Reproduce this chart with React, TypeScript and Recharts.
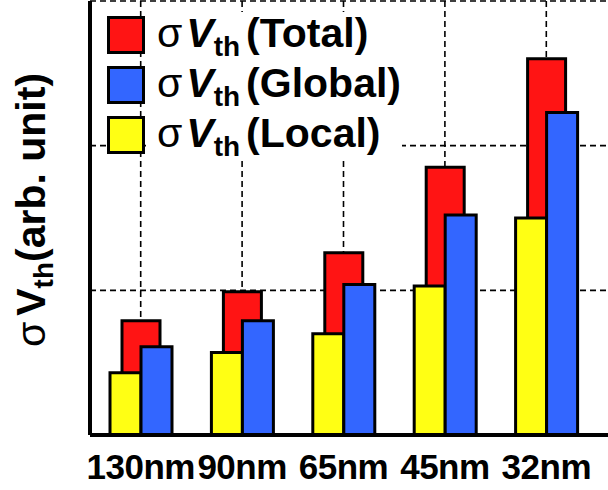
import React from "react";
import {
  BarChart,
  Bar,
  XAxis,
  YAxis,
  CartesianGrid,
  Legend,
} from "recharts";

const nodes = ["130nm", "90nm", "65nm", "45nm", "32nm"];
const totalVals = [0.79, 0.99, 1.26, 1.85, 2.6];
const globalVals = [0.61, 0.79, 1.04, 1.52, 2.23];
const localVals = [0.43, 0.57, 0.7, 1.03, 1.5];
const yTicks = [0, 1, 2, 3];

const legendItems = [
  { name: "Total", color: "#ff1414" },
  { name: "Global", color: "#3366ff" },
  { name: "Local", color: "#ffff14" },
];

const data = nodes.map((node, i) => ({
  node,
  total: totalVals[i],
  global: globalVals[i],
  local: localVals[i],
}));

const FONT = "'Liberation Sans', Arial, sans-serif";

function NodeTick(props: any) {
  const { x, y, payload } = props;
  return (
    <text
      x={x}
      y={y + 36}
      textAnchor="middle"
      fontFamily={FONT}
      fontWeight="bold"
      fontSize={35}
      letterSpacing={-0.5}
      fill="#000"
    >
      {payload.value}
    </text>
  );
}

// y axis has no tick labels, only grid positions
const NoTick = () => <g />;

function YLabel(props: any) {
  const { viewBox } = props;
  const cy = viewBox.y + viewBox.height / 2 - 8;
  const cx = 45;
  return (
    <text
      x={cx}
      y={cy}
      transform={`rotate(-90, ${cx}, ${cy})`}
      textAnchor="middle"
      fontFamily={FONT}
      fontWeight="bold"
      fontSize={41}
      fill="#000"
    >
      <tspan fontWeight="normal">σ</tspan>
      <tspan dx={6}>V</tspan>
      <tspan fontSize={28} dy={8}>th</tspan>
      <tspan dy={-8}>(arb. unit)</tspan>
    </text>
  );
}

function SigmaLegend() {
  return (
    <svg width={310} height={160} style={{ display: "block" }}>
      <rect x={48} y={8} width={254} height={146} fill="#fff" />
      {legendItems.map((item, i) => (
        <g key={item.name}>
          <rect
            x={8.5}
            y={13.5 + i * 50}
            width={35}
            height={35}
            fill={item.color}
            stroke="#000"
            strokeWidth={3}
          />
          <text
            x={57}
            y={43 + i * 50}
            fontFamily={FONT}
            fontWeight="bold"
            fontSize={41}
            fill="#000"
          >
            <tspan fontWeight="normal">σ</tspan>
            <tspan dx={4} fontStyle="italic">V</tspan>
            <tspan fontSize={28} dy={9}>th</tspan>
            <tspan dy={-9} dx={6}>({item.name})</tspan>
          </text>
        </g>
      ))}
    </svg>
  );
}

export default function App() {
  return (
    <div
      style={{
        position: "absolute",
        left: 0,
        top: 0,
        width: 608,
        height: 490,
        overflow: "hidden",
        background: "#fff",
      }}
    >
      <BarChart
        width={620}
        height={490}
        data={data}
        margin={{ top: 1, right: 0, bottom: 0, left: 0 }}
        barGap={0}
      >
        <CartesianGrid
          stroke="#000"
          strokeWidth={1.6}
          strokeDasharray="6 4"
        />
        <XAxis
          dataKey="node"
          height={55}
          padding={{ left: 0, right: 23 }}
          axisLine={{ stroke: "#000", strokeWidth: 4 }}
          tickLine={false}
          tick={<NodeTick />}
          interval={0}
        />
        <XAxis
          xAxisId="t"
          dataKey="node"
          orientation="top"
          height={0}
          padding={{ left: 0, right: 23 }}
          axisLine={{ stroke: "#000", strokeWidth: 4 }}
          tickLine={false}
          tick={false}
        />
        <YAxis
          width={90}
          domain={[0, 3]}
          ticks={yTicks}
          interval={0}
          axisLine={{ stroke: "#000", strokeWidth: 4 }}
          tickLine={false}
          tick={<NoTick />}
          label={<YLabel />}
        />
        <Legend
          layout="horizontal"
          verticalAlign="middle"
          align="center"
          content={<SigmaLegend />}
          wrapperStyle={{ left: 100, top: 4, width: 310, height: 160 }}
        />
        <Bar
          xAxisId="t"
          dataKey="total"
          barSize={38}
          fill="#ff1414"
          stroke="#000"
          strokeWidth={3}
          isAnimationActive={false}
        />
        <Bar
          dataKey="local"
          barSize={31}
          fill="#ffff14"
          stroke="#000"
          strokeWidth={3}
          isAnimationActive={false}
        />
        <Bar
          dataKey="global"
          barSize={31}
          fill="#3366ff"
          stroke="#000"
          strokeWidth={3}
          isAnimationActive={false}
        />
      </BarChart>
    </div>
  );
}
